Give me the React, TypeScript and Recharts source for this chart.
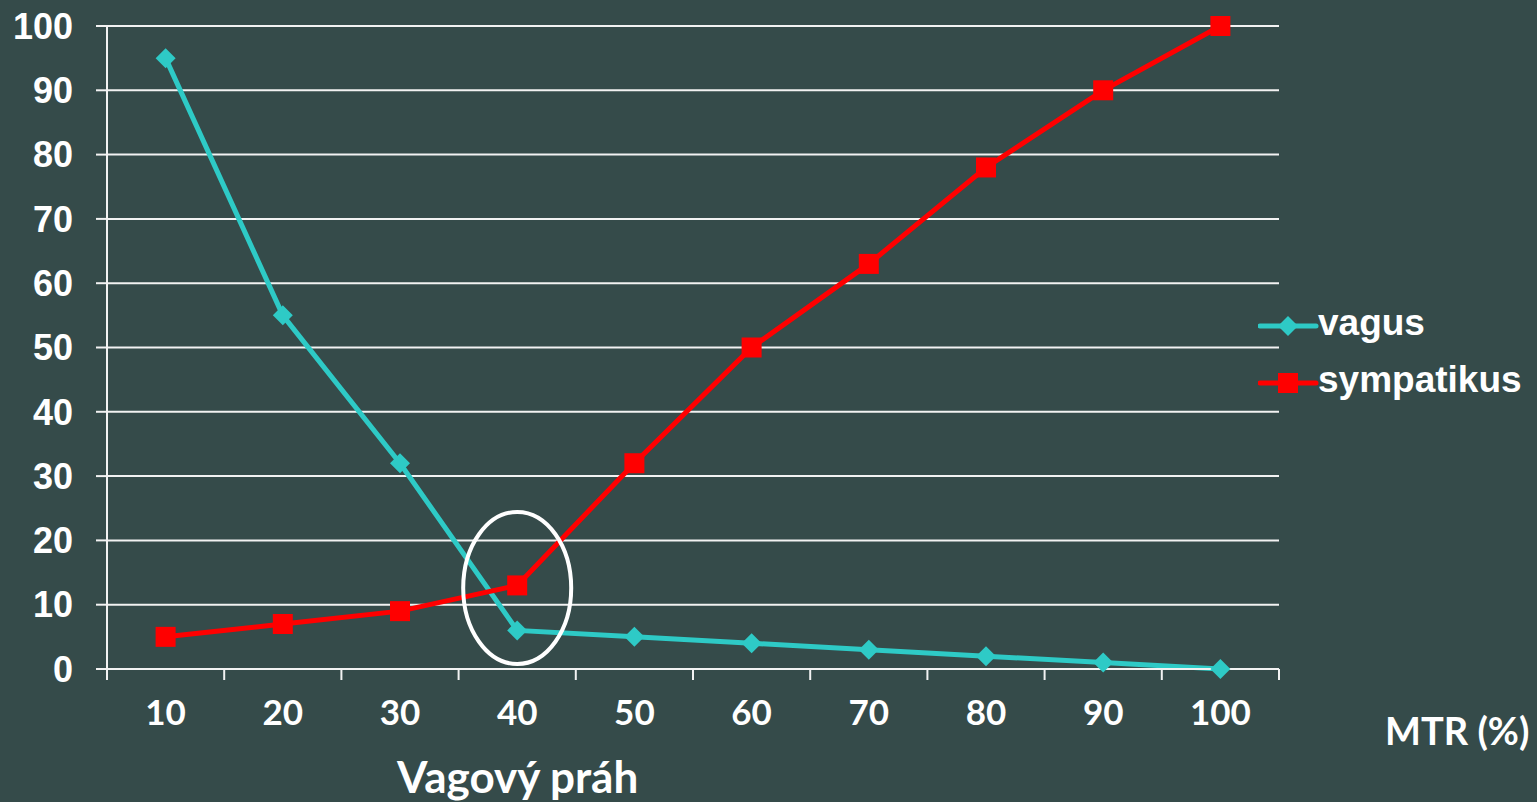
import { LineChart, Line, XAxis, YAxis, CartesianGrid, Legend, ReferenceDot, ReferenceLine } from 'recharts';

const mtr = [10, 20, 30, 40, 50, 60, 70, 80, 90, 100];
const vagus = [95, 55, 32, 6, 5, 4, 3, 2, 1, 0];
const sympatikus = [5, 7, 9, 13, 32, 50, 63, 78, 90, 100];

const yTicks = [0, 10, 20, 30, 40, 50, 60, 70, 80, 90, 100];
// category borders, where the small tick marks sit
const borderTicks = [5, 15, 25, 35, 45, 55, 65, 75, 85, 95, 105];
const xTicks = [...borderTicks, ...mtr].sort((a, b) => a - b);

// the circled point ("Vagový práh")
const thresholdMtr = 40;
const thresholdValue = 12.6;

const BG = '#354b4a';
const TEAL = '#2ecac6';
const RED = '#ff0000';
const LINE = '#f2f2f2';

const data = mtr.map((m, i) => ({ mtr: m, vagus: vagus[i], sympatikus: sympatikus[i] }));

const DiamondDot = (props: any) => {
  const { cx, cy, index } = props;
  if (cx == null || cy == null) return null;
  return (
    <polygon
      key={`d-${index}`}
      points={`${cx},${cy - 10} ${cx + 10},${cy} ${cx},${cy + 10} ${cx - 10},${cy}`}
      fill={TEAL}
    />
  );
};

const SquareDot = (props: any) => {
  const { cx, cy, index } = props;
  if (cx == null || cy == null) return null;
  return <rect key={`s-${index}`} x={cx - 10} y={cy - 10} width={20} height={20} fill={RED} />;
};

// border values get a small tick mark, category values get a label
const XTick = (props: any) => {
  const { x, y, payload } = props;
  if (borderTicks.includes(payload.value)) {
    return <line x1={x} y1={y} x2={x} y2={y + 11} stroke={LINE} strokeWidth={2} />;
  }
  return (
    <text
      x={x}
      y={y + 31}
      dy="0.71em"
      textAnchor="middle"
      fill="#fff"
      fontSize={35}
      fontWeight={700}
      fontFamily="Lato, sans-serif"
    >
      {payload.value}
    </text>
  );
};

const legendItems = [
  { name: 'vagus', color: TEAL, marker: 'diamond' },
  { name: 'sympatikus', color: RED, marker: 'square' },
];

const LegendContent = () => (
  <div>
    {legendItems.map((item) => (
      <div key={item.name} style={{ display: 'flex', alignItems: 'center', height: 57 }}>
        <svg width={62} height={24}>
          <line x1={2} y1={12} x2={58} y2={12} stroke={item.color} strokeWidth={5} strokeLinecap="round" />
          {item.marker === 'diamond' ? (
            <polygon points="30,2 40,12 30,22 20,12" fill={item.color} />
          ) : (
            <rect x={20} y={2} width={20} height={20} fill={item.color} />
          )}
        </svg>
        <span
          style={{
            fontFamily: '"Liberation Sans", Arial, sans-serif',
            fontWeight: 700,
            fontSize: 37,
            color: '#fff',
            lineHeight: 1,
            marginLeft: -2,
            marginTop: -6,
          }}
        >
          {item.name}
        </span>
      </div>
    ))}
  </div>
);

const App = () => {
  return (
    <div style={{ position: 'absolute', left: 0, top: 0, width: 1537, height: 802, background: BG, overflow: 'hidden' }}>
      <LineChart
        width={1537}
        height={802}
        data={data}
        margin={{ top: 26, right: 258, left: 27, bottom: 73 }}
      >
        <CartesianGrid vertical={false} stroke={LINE} strokeWidth={2} />
        <XAxis
          type="number"
          dataKey="mtr"
          domain={[5, 105]}
          ticks={xTicks}
          interval={0}
          axisLine={{ stroke: LINE, strokeWidth: 2 }}
          tickLine={false}
          tickSize={0}
          tickMargin={0}
          height={60}
          tick={<XTick />}
        />
        <YAxis
          domain={[0, 100]}
          ticks={yTicks}
          interval={0}
          width={80}
          axisLine={{ stroke: LINE, strokeWidth: 2 }}
          tickLine={{ stroke: LINE, strokeWidth: 2 }}
          tickSize={11}
          tickMargin={23}
          tick={{ fill: '#fff', fontSize: 36, fontWeight: 700, fontFamily: '"Liberation Sans", Arial, sans-serif' }}
        />
        <ReferenceLine x={borderTicks[0]} stroke={LINE} strokeWidth={2} ifOverflow="visible" />
        <Legend
          layout="vertical"
          align="center"
          verticalAlign="middle"
          content={<LegendContent />}
          wrapperStyle={{ left: 1258, top: 297, width: 279 }}
        />
        <Line
          type="linear"
          dataKey="vagus"
          name="vagus"
          stroke={TEAL}
          strokeWidth={5}
          dot={DiamondDot}
          activeDot={false}
          isAnimationActive={false}
        />
        <Line
          type="linear"
          dataKey="sympatikus"
          name="sympatikus"
          stroke={RED}
          strokeWidth={5}
          dot={SquareDot}
          activeDot={false}
          isAnimationActive={false}
        />
        <ReferenceDot
          x={thresholdMtr}
          y={thresholdValue}
          ifOverflow="visible"
          shape={(p: any) => (
            <ellipse cx={p.cx} cy={p.cy} rx={54} ry={76} fill="none" stroke="#fff" strokeWidth={4} />
          )}
        />
      </LineChart>
      <div
        style={{
          position: 'absolute',
          left: 1385,
          top: 711,
          fontFamily: 'Lato, sans-serif',
          fontWeight: 700,
          fontSize: 38,
          color: '#fff',
          whiteSpace: 'nowrap',
          lineHeight: 1,
        }}
      >
        MTR (%)
      </div>
      <div
        style={{
          position: 'absolute',
          left: 397,
          top: 754,
          fontFamily: 'Lato, sans-serif',
          fontWeight: 700,
          fontSize: 44,
          color: '#fff',
          whiteSpace: 'nowrap',
          lineHeight: 1,
        }}
      >
        Vagový práh
      </div>
    </div>
  );
};

export default App;
